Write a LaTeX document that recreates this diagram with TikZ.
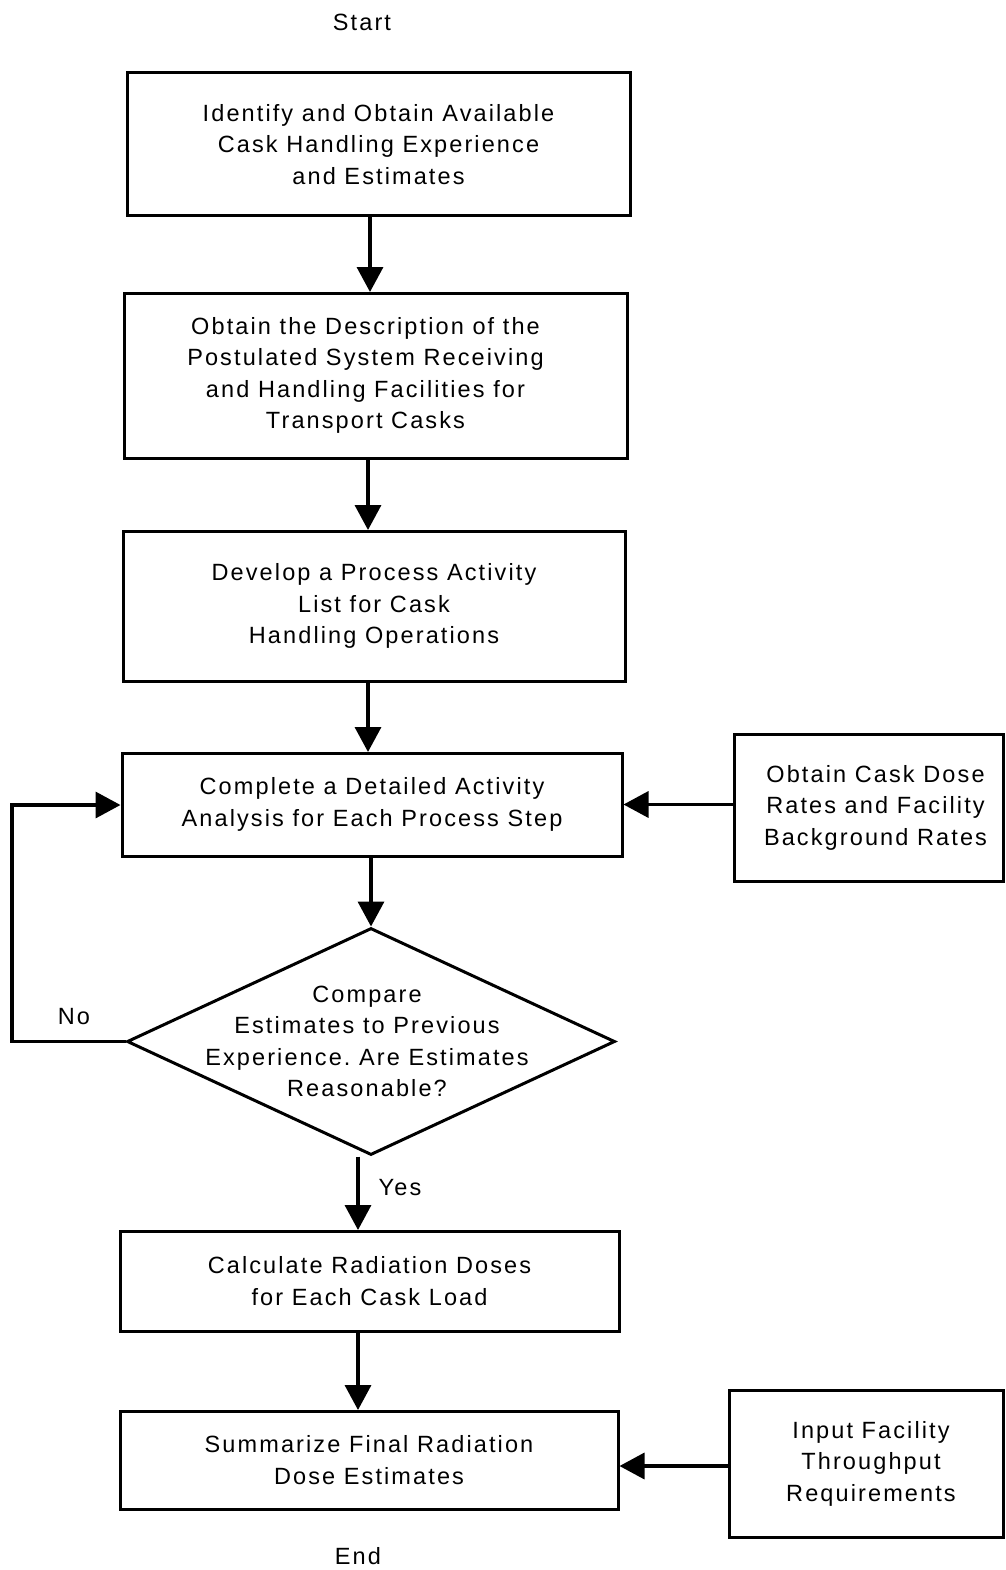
\documentclass[tikz,border=0pt]{standalone}
\usepackage{fontspec}
\setmainfont[LetterSpace=9]{Liberation Sans}
\usetikzlibrary{arrows.meta,shapes.geometric}
\begin{document}
\frenchspacing
\begin{tikzpicture}[x=1pt,y=-1pt,
  every node/.style={font=\fontsize{23.5}{31.5}\selectfont},
  box/.style={draw,line width=3pt,rectangle,inner sep=0pt,align=center},
  plain/.style={inner sep=0pt,align=center},
  flow/.style={line width=3.5pt,-{Triangle[length=25pt,width=26pt]}}]
\useasboundingbox (0,0) rectangle (1005,1570);

\node[plain] (start) at (362,22) {Start};
\node[box,minimum width=503pt,minimum height=143pt] (b1) at (378.5,144.5)
  {Identify and Obtain Available\\Cask Handling Experience\\and Estimates};
\node[box,minimum width=503pt,minimum height=165pt,
  label={[plain,xshift=-10pt]center:{Obtain the Description of the\\Postulated System Receiving\\and Handling Facilities for\\Transport Casks}}]
  (b2) at (375.5,375.5) {};
\node[box,minimum width=502pt,minimum height=150pt] (b3) at (374,606)
  {Develop a Process Activity\\List for Cask\\Handling Operations};
\node[box,minimum width=500pt,minimum height=103pt] (b4) at (372,804.5)
  {Complete a Detailed Activity\\Analysis for Each Process Step};
\node[box,minimum width=269pt,minimum height=147pt,
  label={[plain,xshift=7pt]center:{Obtain Cask Dose\\Rates and Facility\\Background Rates}}]
  (ra) at (868.5,807.5) {};
\node[draw,line width=3pt,diamond,minimum width=488pt,minimum height=227pt,
  inner sep=0pt,
  label={[plain,xshift=-4pt]center:{Compare\\Estimates to Previous\\Experience. Are Estimates\\Reasonable?}}]
  (dec) at (371,1041.5) {};
\node[box,minimum width=499pt,minimum height=100pt] (b5) at (369.5,1281)
  {Calculate Radiation Doses\\for Each Cask Load};
\node[box,minimum width=498pt,minimum height=98pt] (b6) at (369,1460)
  {Summarize Final Radiation\\Dose Estimates};
\node[box,minimum width=274pt,minimum height=147pt,
  label={[plain,xshift=5pt]center:{Input Facility\\Throughput\\Requirements}}]
  (rb) at (866,1463.5) {};
\node[plain] (end) at (358,1556) {End};

\node[plain] (yes) at (400,1188) {Yes};
\node[plain] (no) at (74,1017) {No};

\coordinate (t2) at (370,292);
\coordinate (t3) at (368,530);
\coordinate (t4) at (368,752);
\coordinate (t5) at (358,1230);
\coordinate (t6) at (358,1410);
\coordinate (loopB) at (12,805);

\draw[flow] (b1.south -| t2) -- (t2);
\draw[flow] (b2.south -| t3) -- (t3);
\draw[flow] (b3.south -| t4) -- (t4);
\draw[flow] (b4.south -| dec.north) -- (dec.north);
\draw[flow] (ra.west |- b4.east) -- (b4.east);
\draw[flow] (dec.west) -- (dec.west -| loopB) -- (loopB) -- (b4.west |- loopB);
\draw[flow] (dec.south -| t5) -- (t5);
\draw[flow] (b5.south -| t6) -- (t6);
\draw[flow] (rb.west |- 0,1466) -- (b6.east |- 0,1466);
\end{tikzpicture}
\end{document}
